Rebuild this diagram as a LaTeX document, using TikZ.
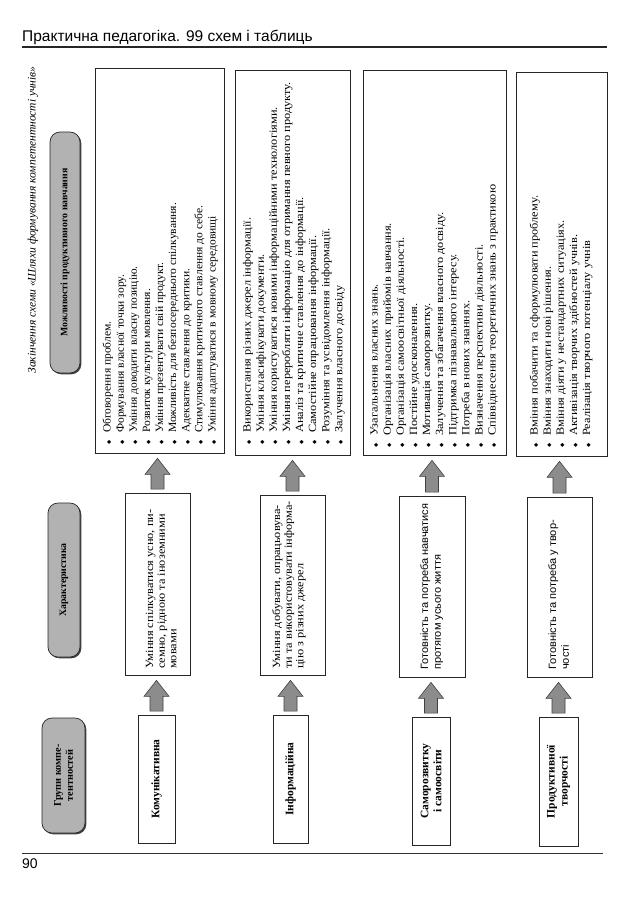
\documentclass[tikz,border=0pt]{standalone}
\usepackage{fontspec}
\setmainfont{Liberation Serif}
\newfontfamily\hsans{Liberation Sans}
\newfontfamily\djfont{DejaVu Sans}
\newfontfamily\wserifa[FakeStretch=1.04]{Liberation Serif}
\newfontfamily\wserifb[FakeStretch=1.12]{Liberation Serif}
\newfontfamily\wsans[FakeStretch=1.04]{Liberation Sans}
\usetikzlibrary{shadows,calc}
\newcommand\bl{\makebox[14pt][l]{\hspace{2pt}\djfont\fontsize{5.5}{5.5}\selectfont ◆}}
\newcommand\fl{\rule{0pt}{9pt}}
\begin{document}
\begin{tikzpicture}[x=1pt,y=1pt,
  shad/.style={drop shadow={shadow xshift=1.3pt,shadow yshift=-1.3pt,opacity=1,fill=black!75}},
  pbox/.style={draw=black!85,line width=0.7pt,fill=white,rectangle,inner sep=0pt,shad},
  hbox/.style={draw=black!85,line width=0.7pt,fill=black!30,rectangle,rounded corners=10pt,inner sep=0pt,shad},
  rtext/.style={rotate=90,inner sep=0pt,align=left,anchor=north west},
  ptexta/.style={rtext,font=\wserifa\fontsize{11.1}{13.1}\selectfont},
  ptextb/.style={rtext,font=\wserifb\fontsize{11}{13.1}\selectfont},
  ctext/.style={rtext,font=\wserifb\fontsize{11}{11.6}\selectfont},
  stext/.style={rtext,font=\wsans\fontsize{10.6}{12.6}\selectfont},
  gtext/.style={rotate=90,inner sep=0pt,align=center,font=\bfseries\fontsize{11.5}{13}\selectfont},
  htext/.style={rotate=90,inner sep=0pt,align=center,font=\bfseries\fontsize{9.8}{11.5}\selectfont},
  barrow/.style={draw=black!75,line width=0.6pt,fill=black!45},
  rule/.style={draw=black!85,line width=1.1pt}
]
\useasboundingbox (0,0) rectangle (638,-903);
\fill[white] (0,0) rectangle (638,-903);

% page header and footer
\node[anchor=base west,inner sep=0pt,font=\hsans\fontsize{15.5}{17}\selectfont] (title) at (22,-41) {Практична педагогіка. 99 схем і таблиць};
\coordinate (hl1) at (22,-47);
\coordinate (hl2) at (607,-47);
\draw[rule] (hl1) -- (hl2);
\coordinate (fl1) at (22,-853);
\coordinate (fl2) at (603,-853);
\draw[draw=black!80,line width=0.8pt] (fl1) -- (fl2);
\node[anchor=base west,inner sep=0pt,font=\hsans\fontsize{14}{16}\selectfont] (pnum) at (22,-868) {90};

% caption
\node[rotate=90,inner sep=0pt,font=\itshape\fontsize{11.5}{13}\selectfont] (cap) at (33,-220) {Закінчення схеми «Шляхи формування компетентності учнів»};

% column headers
\node[hbox,minimum width=43pt,minimum height=115pt] (h1) at (63.5,-775.5) {};
\node[htext,font=\bfseries\fontsize{10.3}{12}\selectfont] (h1t) at (h1.center) {Групи компе-\\тентностей};
\node[hbox,minimum width=32pt,minimum height=154pt] (h2) at (64,-580) {};
\node[htext] (h2t) at (h2.center) {Характеристика};
\node[hbox,minimum width=30pt,minimum height=241pt] (h3) at (65,-252.5) {};
\node[htext] (h3t) at (h3.center) {Можливості продуктивного навчання};

% group boxes
\node[pbox,minimum width=37pt,minimum height=128pt] (g1) at (156.5,-779) {};
\node[gtext] (g1t) at (g1.center) {Комунікативна};
\node[pbox,minimum width=35pt,minimum height=128pt] (g2) at (290.5,-779) {};
\node[gtext] (g2t) at (g2.center) {Інформаційна};
\node[pbox,minimum width=38pt,minimum height=128pt] (g3) at (431,-781) {};
\node[gtext] (g3t) at (g3.center) {Саморозвитку\\і самоосвіти};
\node[pbox,minimum width=39pt,minimum height=129pt] (g4) at (558.5,-781.5) {};
\node[gtext] (g4t) at (g4.center) {Продуктивної\\творчості};

% characteristic boxes
\node[pbox,minimum width=65pt,minimum height=182pt] (c1) at (157.5,-584) {};
\node[ctext] (c1t) at (144,-669) {\fl Уміння спілкуватися усно, пи-\\семно, рідною та іноземними\\мовами};
\node[pbox,minimum width=65pt,minimum height=180pt] (c2) at (292.5,-585) {};
\node[ctext] (c2t) at (271,-669) {\fl Уміння добувати, опрацьовува-\\ти та використовувати інформа-\\цію з різних джерел};
\node[pbox,minimum width=66pt,minimum height=181pt] (c3) at (432,-586.5) {};
\node[stext] (c3t) at (419,-670) {\fl Готовність та потреба навчатися\\протягом усього життя};
\node[pbox,minimum width=65pt,minimum height=180pt] (c4) at (559.5,-587) {};
\node[stext] (c4t) at (547,-670) {\fl Готовність та потреба у твор-\\чості};

% possibility boxes
\node[pbox,minimum width=129pt,minimum height=385pt] (p1) at (159.5,-260.5) {};
\node[ptexta] (p1t) at (101.5,-447) {\fl\bl Обговорення проблем.\\
\bl Формування власної точки зору.\\
\bl Уміння доводити власну позицію.\\
\bl Розвиток культури мовлення.\\
\bl Уміння презентувати свій продукт.\\
\bl Можливість для безпосереднього спілкування.\\
\bl Адекватне ставлення до критики.\\
\bl Стимулювання критичного ставлення до себе.\\
\bl Уміння адаптуватися в мовному середовищі};
\node[pbox,minimum width=115pt,minimum height=385pt] (p2) at (292.5,-262.5) {};
\node[ptextb] (p2t) at (241.5,-447) {\fl\bl Використання різних джерел інформації.\\
\bl Уміння класифікувати документи.\\
\bl Уміння користуватися новими інформаційними технологіями.\\
\bl Уміння переробляти інформацію для отримання певного продукту.\\
\bl Аналіз та критичне ставлення до інформації.\\
\bl Самостійне опрацювання інформації.\\
\bl Розуміння та усвідомлення інформації.\\
\bl Залучення власного досвіду};
\node[pbox,minimum width=143pt,minimum height=385pt] (p3) at (434.5,-262.5) {};
\node[ptextb] (p3t) at (368.5,-450) {\fl\bl Узагальнення власних знань.\\
\bl Організація власних прийомів навчання.\\
\bl Організація самоосвітньої діяльності.\\
\bl Постійне удосконалення.\\
\bl Мотивація саморозвитку.\\
\bl Залучення та збагачення власного досвіду.\\
\bl Підтримка пізнавального інтересу.\\
\bl Потреба в нових знаннях.\\
\bl Визначення перспективи діяльності.\\
\bl Співвіднесення теоретичних знань з практикою};
\node[pbox,minimum width=91pt,minimum height=384pt] (p4) at (561.5,-264) {};
\node[ptextb] (p4t) at (528.5,-450) {\fl\bl Вміння побачити та сформулювати проблему.\\
\bl Вміння знаходити нові рішення.\\
\bl Вміння діяти у нестандартних ситуаціях.\\
\bl Активізація творчих здібностей учнів.\\
\bl Реалізація творчого потенціалу учнів};

% block arrows
\foreach \lo/\hi in {g1/c1,g2/c2,g3/c3,g4/c4,c1/p1,c2/p2,c3/p3,c4/p4}{
  \draw[barrow] let \p1=(\lo.north), \p2=(\hi.south) in
    (\x1-6.5pt,\y1+3.5pt) -- (\x1-6.5pt,\y2-21pt) -- (\x1-12.5pt,\y2-21pt) -- (\x1,\y2-5pt)
    -- (\x1+12.5pt,\y2-21pt) -- (\x1+6.5pt,\y2-21pt) -- (\x1+6.5pt,\y1+3.5pt) -- cycle;
}
\end{tikzpicture}
\end{document}
